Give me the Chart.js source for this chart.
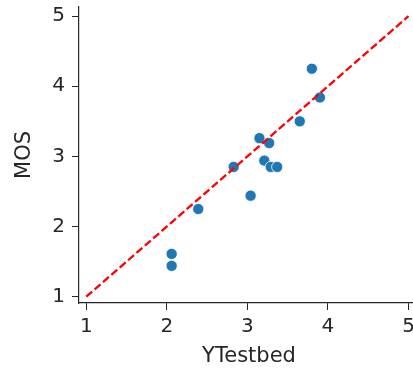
<!DOCTYPE html>
<html>
<head>
<meta charset="utf-8">
<script src="https://cdn.jsdelivr.net/npm/chart.js"></script>
<style>
  html, body { margin: 0; padding: 0; background: #fff; overflow: hidden; }
  #wrap { width: 413px; height: 371px; overflow: hidden; }
</style>
</head>
<body>
<div id="wrap"><canvas id="chart" width="440" height="371"></canvas></div>
<script>
// values
var yTestbed = [3.80, 3.90, 3.65, 3.15, 3.27, 3.21, 3.29, 3.37, 2.83, 3.04, 2.39, 2.06, 2.06];
var mos      = [4.25, 3.84, 3.50, 3.26, 3.19, 2.94, 2.85, 2.85, 2.85, 2.44, 2.25, 1.61, 1.44];
var refLine  = [1, 5];
var tickValues = [1, 2, 3, 4, 5];

var ink = '#262626';
Chart.defaults.font.family = "'DejaVu Sans', sans-serif";

var points = yTestbed.map(function (x, i) { return { x: x, y: mos[i] }; });
var diag = refLine.map(function (v) { return { x: v, y: v }; });

function setTicks(scale) {
    scale.ticks = tickValues.map(function (v) { return { value: v }; });
}

var ctx = document.getElementById('chart');
var chart = new Chart(ctx, {
    type: 'scatter',
    data: {
        datasets: [
            {
                type: 'line',
                data: diag,
                borderColor: '#ff0000',
                borderWidth: 2.3,
                borderDash: [7.8, 3.3],
                pointRadius: 0,
                fill: false
            },
            {
                data: points,
                backgroundColor: '#1f77b4',
                borderColor: '#ffffff',
                borderWidth: 0.8,
                pointRadius: 5.6,
                pointHoverRadius: 5.6
            }
        ]
    },
    options: {
        responsive: false,
        animation: false,
        events: [],
        layout: { padding: { top: 7, right: 21, left: 0, bottom: 0 } },
        plugins: {
            legend: { display: false },
            tooltip: { enabled: false }
        },
        scales: {
            x: {
                type: 'linear',
                min: 0.91,
                max: 5.13,
                afterBuildTicks: setTicks,
                afterFit: function (s) { s.height = 68; s.paddingLeft = 0; s.paddingRight = 0; },
                ticks: { color: ink, font: { size: 20 }, padding: 5, maxRotation: 0 },
                grid: { drawOnChartArea: false, drawTicks: true, tickLength: 7, color: ink },
                border: { display: true, color: ink, width: 1.2 },
                title: { display: true, text: 'YTestbed', color: ink, font: { size: 21 }, padding: { top: 0, bottom: 2 } }
            },
            y: {
                type: 'linear',
                min: 0.91,
                max: 5.13,
                afterBuildTicks: setTicks,
                afterFit: function (s) { s.width = 79; s.paddingTop = 0; s.paddingBottom = 0; },
                ticks: { color: ink, font: { size: 20 }, padding: 7 },
                grid: { drawOnChartArea: false, drawTicks: true, tickLength: 7, color: ink },
                border: { display: true, color: ink, width: 1.2 },
                title: { display: true, text: 'MOS', color: ink, font: { size: 21 }, padding: { top: 12, bottom: 0 } }
            }
        }
    }
});
</script>
</body>
</html>
